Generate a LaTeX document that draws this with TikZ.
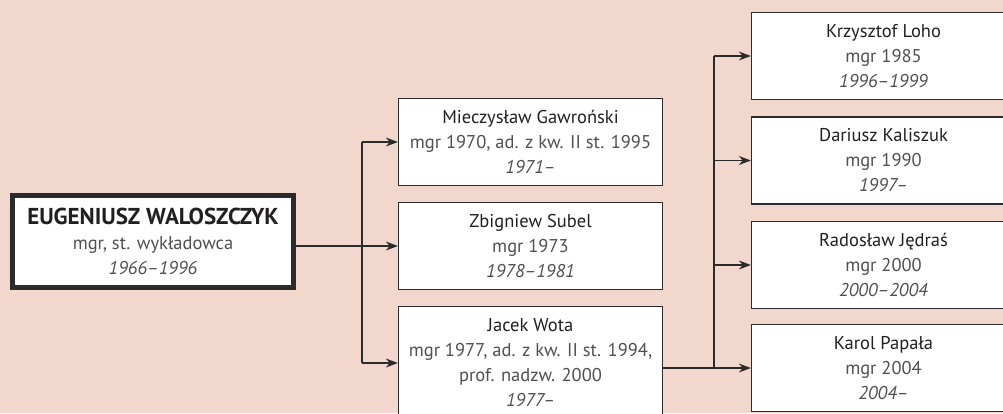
\documentclass[tikz,border=0pt]{standalone}
\usepackage{fontspec}
\setmainfont{PT Sans}
\usetikzlibrary{arrows.meta}
\definecolor{bgpink}{HTML}{F2D7CD}
\definecolor{linegray}{HTML}{2B2B2B}
\definecolor{namecol}{HTML}{231F20}
\definecolor{infocol}{HTML}{505052}
\newcommand{\who}[1]{{\color{namecol}#1}}
\newcommand{\when}[1]{{\itshape #1}}
\tikzset{
  person/.style={draw=linegray, fill=white, line width=1.3pt, minimum width=264pt,
    minimum height=87pt, align=center, inner sep=0pt, text=infocol,
    font=\fontsize{18.5}{25}\selectfont},
  rootperson/.style={person, line width=4.5pt, minimum width=281pt, minimum height=92pt},
  link/.style={draw=linegray, line width=1.3pt},
  arrowlink/.style={link, -{Stealth[length=12pt,width=9pt]}},
}
\begin{document}
\begin{tikzpicture}[x=1pt,y=-1pt]
  %Background and frame
  \useasboundingbox (0,0) rectangle (1003,413);
  \fill[bgpink] (0,0) rectangle (1003,413);
  \clip (0,0) rectangle (1003,413);
  \coordinate (trunkA) at (362,0);
  \coordinate (trunkB) at (714,0);

  %Head of the chair
  \node[rootperson] (root) at (153,241.5)
    {{\fontsize{23}{25}\selectfont\bfseries\color{namecol}EUGENIUSZ WALOSZCZYK}\\
     mgr, st. wykładowca\\ \when{1966--1996}};

  %First generation
  \node[person] (mid1) at (530.5,142)
    {\who{Mieczysław Gawroński}\\ mgr 1970, ad. z kw. II st. 1995\\ \when{1971--}};
  \node[person] (mid2) at (530.5,246)
    {\who{Zbigniew Subel}\\ mgr 1973\\ \when{1978--1981}};
  \node[person, minimum height=113pt] (mid3) at (530.5,363)
    {\who{Jacek Wota}\\ mgr 1977, ad. z kw. II st. 1994,\\ prof. nadzw. 2000\\ \when{1977--}};

  %Second generation
  \node[person] (right1) at (883.5,56)
    {\who{Krzysztof Loho}\\ mgr 1985\\ \when{1996--1999}};
  \node[person] (right2) at (883.5,160.5)
    {\who{Dariusz Kaliszuk}\\ mgr 1990\\ \when{1997--}};
  \node[person] (right3) at (883.5,265)
    {\who{Radosław Jędraś}\\ mgr 2000\\ \when{2000--2004}};
  \node[person] (right4) at (883.5,368)
    {\who{Karol Papała}\\ mgr 2004\\ \when{2004--}};

  %Connectors
  \draw[link] (trunkA |- mid1.west) -- (trunkA |- mid3.west);
  \draw[arrowlink] (mid2.west -| root.east) -- (mid2.west);
  \draw[arrowlink] (trunkA |- mid1.west) -- (mid1.west);
  \draw[arrowlink] (trunkA |- mid3.west) -- (mid3.west);
  \draw[link] (trunkB |- right1.west) -- (trunkB |- right4.west);
  \draw[arrowlink] (right4.west -| mid3.east) -- (right4.west);
  \draw[arrowlink] (trunkB |- right1.west) -- (right1.west);
  \draw[arrowlink] (trunkB |- right2.west) -- (right2.west);
  \draw[arrowlink] (trunkB |- right3.west) -- (right3.west);
\end{tikzpicture}
\end{document}
